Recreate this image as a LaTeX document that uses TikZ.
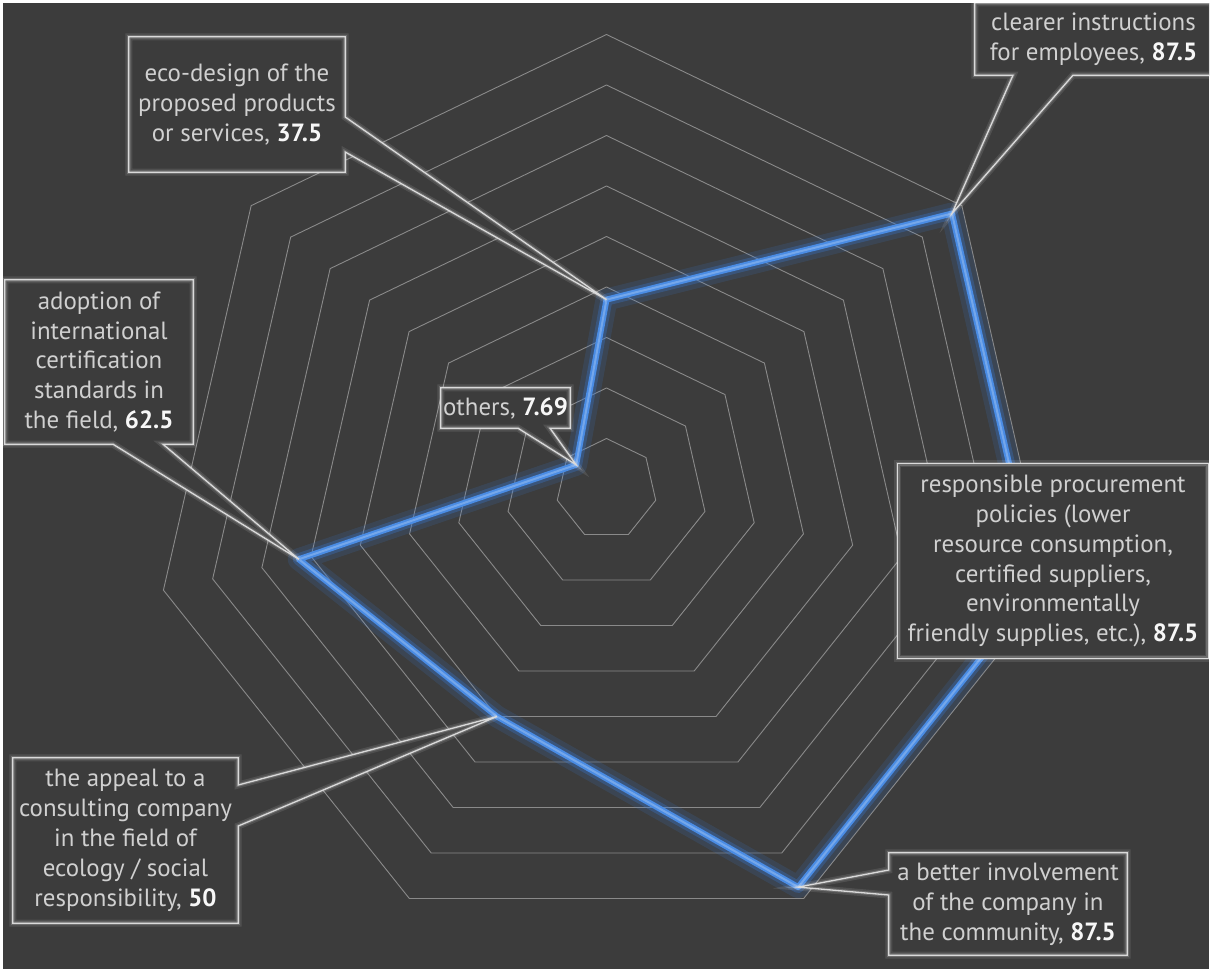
\documentclass[tikz,border=0pt]{standalone}
\usepackage{fontspec}
\setmainfont{PT Sans}
\usetikzlibrary{calc}
\definecolor{bgc}{HTML}{3C3C3C}
\definecolor{gridc}{HTML}{8A8A8A}
\definecolor{txtc}{HTML}{D0D0D0}
\definecolor{boxc}{HTML}{DADADA}
\definecolor{bluec}{HTML}{4A8CE4}
\definecolor{glowc}{HTML}{3A78D0}
\newcommand{\numv}[1]{\textbf{\color{white!94!gray}#1}}
\pgfdeclarelayer{chart}
\pgfdeclarelayer{boxes}
\pgfsetlayers{chart,boxes,main}
\begin{document}
\begin{tikzpicture}[x=1bp,y=-1bp,
  lbl/.style={text=txtc, align=center, font=\fontsize{25}{30}\selectfont, inner sep=0pt},
  ring/.style={draw=gridc, line width=0.9bp},
  cglowA/.style={draw=white, draw opacity=0.10, line width=7bp, line join=miter, fill=bgc},
  cglowB/.style={draw=white, draw opacity=0.18, line width=3.5bp, line join=miter},
  cline/.style={draw=boxc, line width=1.3bp, line join=miter},
  bglowA/.style={draw=glowc, draw opacity=0.16, line width=22bp, line join=round},
  bglowB/.style={draw=glowc, draw opacity=0.32, line width=12bp, line join=round},
  bcore/.style={draw=bluec, line width=6bp, line join=round},
  bhi/.style={draw=bluec!60!white, line width=2bp, line join=round, draw opacity=0.6}
]
\useasboundingbox (0,0) rectangle (1212,973);
\begin{pgfonlayer}{chart}
\fill[white] (0,0) rectangle (1212,973);
\fill[bgc] (3,3) rectangle (1209,969);
\begin{scope}[shift={(606.5,489)}, yscale=-1]
  \foreach \k in {1,...,9} {
    \draw[ring] (90:{\k*50.5}) \foreach \i in {1,...,6} { -- ({90-\i*360/7}:{\k*50.5}) } -- cycle;
  }
  \coordinate (p0) at (90:{37.5*5.05});
  \coordinate (p1) at ({90-1*360/7}:{87.5*5.05});
  \coordinate (p2) at ({90-2*360/7}:{87.5*5.05});
  \coordinate (p3) at ({90-3*360/7}:{87.5*5.05});
  \coordinate (p4) at ({90-4*360/7}:{50*5.05});
  \coordinate (p5) at ({90-5*360/7}:{62.5*5.05});
  \coordinate (p6) at ({90-6*360/7}:{7.69*5.05});
\end{scope}
\draw[bglowA] (p0) -- (p1) -- (p2) -- (p3) -- (p4) -- (p5) -- (p6) -- cycle;
\draw[bglowB] (p0) -- (p1) -- (p2) -- (p3) -- (p4) -- (p5) -- (p6) -- cycle;
\draw[bcore] (p0) -- (p1) -- (p2) -- (p3) -- (p4) -- (p5) -- (p6) -- cycle;
\draw[bhi] (p0) -- (p1) -- (p2) -- (p3) -- (p4) -- (p5) -- (p6) -- cycle;
\end{pgfonlayer}

% text nodes (box geometry)
\node[lbl, minimum width=216bp, minimum height=135bp] (eco) at (237,104.5)
  {eco-design of the\\proposed products\\or services, \numv{37.5}};
\node[lbl, minimum width=237bp, minimum height=72bp] (clear) at (1093.5,39)
  {clearer instructions\\for employees, \numv{87.5}};
\node[lbl, minimum width=310bp, minimum height=194bp] (proc) at (1053,561)
  {responsible procurement\\policies (lower\\resource consumption,\\certified suppliers,\\environmentally\\friendly supplies, etc.), \numv{87.5}};
\node[lbl, minimum width=238bp, minimum height=102bp] (inv) at (1008,904)
  {a better involvement\\of the company in\\the community, \numv{87.5}};
\node[lbl, minimum width=225bp, minimum height=165bp] (cons) at (125.5,840.5)
  {the appeal to a\\consulting company\\in the field of\\ecology / social\\responsibility, \numv{50}};
\node[lbl, minimum width=188bp, minimum height=164bp] (adop) at (99,362)
  {adoption of\\international\\certification\\standards in\\the field, \numv{62.5}};
\node[lbl, minimum width=129bp, minimum height=40bp] (oth) at (505.5,408)
  {others, \numv{7.69}};

\begin{pgfonlayer}{boxes}
\begin{scope}
\clip (3,3) rectangle (1209,969);
\foreach \s in {cglowA,cglowB,cline} {
  % eco-design
  \path[\s] (eco.north west) -- (eco.north east) -- (eco.north east |- 0,117) -- (p0)
    -- (eco.north east |- 0,152) -- (eco.south east) -- (eco.south west) -- cycle;
  % clearer instructions
  \path[\s] (clear.north west) -- (clear.south west) -- (clear.south west -| 1013,0) -- (p1)
    -- (clear.south west -| 1073,0) -- (clear.south east) -- (clear.north east) -- cycle;
  % procurement
  \path[\s] (proc.north west) rectangle (proc.south east);
  % involvement
  \path[\s] (inv.north west) -- (inv.north east) -- (inv.south east) -- (inv.south west)
    -- (inv.north west |- 0,895) -- (p3) -- (inv.north west |- 0,870) -- cycle;
  % consulting
  \path[\s] (cons.north west) -- (cons.north east) -- (cons.north east |- 0,785) -- (p4)
    -- (cons.north east |- 0,826) -- (cons.south east) -- (cons.south west) -- cycle;
  % adoption
  \path[\s] (adop.north west) -- (adop.north east) -- (adop.south east)
    -- (adop.south west -| 163,0) -- (p5) -- (adop.south west -| 113,0) -- (adop.south west) -- cycle;
  % others
  \path[\s] (oth.north west) -- (oth.north east) -- (oth.south east)
    -- (oth.south west -| 550,0) -- (p6) -- (oth.south west -| 518,0) -- (oth.south west) -- cycle;
}
\end{scope}
\end{pgfonlayer}
\end{tikzpicture}
\end{document}
